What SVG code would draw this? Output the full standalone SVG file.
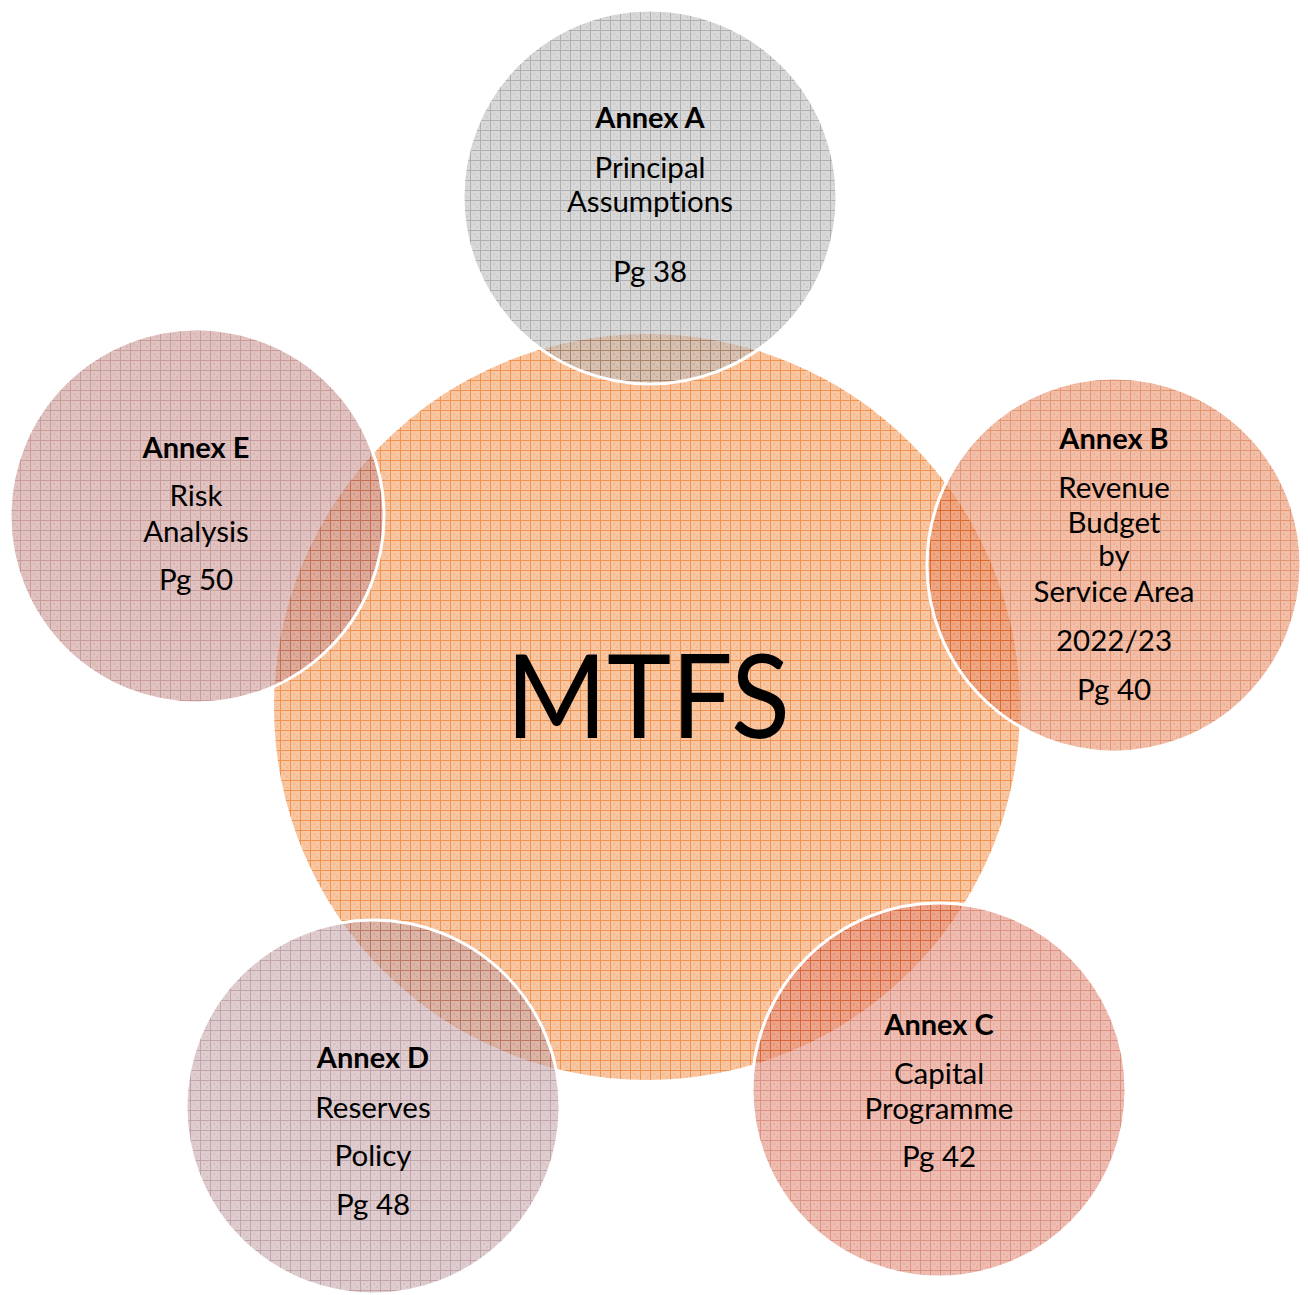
<svg xmlns="http://www.w3.org/2000/svg" width="1308" height="1295" viewBox="0 0 1308 1295">
  <defs>
    <!-- graph-paper fills: base tone, fine checker, 1px grid every 10px -->
    <pattern id="gridOrange" width="10" height="10" patternUnits="userSpaceOnUse">
      <rect width="10" height="10" fill="#f9c6a2"/>
      <rect x="3" y="3" width="2" height="2" fill="#f6b88e"/>
      <rect x="6" y="6" width="2" height="2" fill="#f6b88e"/>
      <path d="M0 0.5H10M0.5 0V10" stroke="#f1924e" stroke-width="1"/>
    </pattern>
    <!-- satellite fills are deeper tones, laid down at reduced opacity -->
    <pattern id="gridGray" width="10" height="10" patternUnits="userSpaceOnUse">
      <rect width="10" height="10" fill="rgb(190,190,190)"/>
      <rect x="3" y="3" width="2" height="2" fill="rgb(170,170,170)"/>
      <rect x="6" y="6" width="2" height="2" fill="rgb(170,170,170)"/>
      <path d="M0 0.5H10M0.5 0V10" stroke="rgb(122,122,122)" stroke-width="1"/>
    </pattern>
    <pattern id="gridSalmon" width="10" height="10" patternUnits="userSpaceOnUse">
      <rect width="10" height="10" fill="rgb(233,147,110)"/>
      <rect x="3" y="3" width="2" height="2" fill="rgb(223,123,80)"/>
      <rect x="6" y="6" width="2" height="2" fill="rgb(223,123,80)"/>
      <path d="M0 0.5H10M0.5 0V10" stroke="rgb(207,80,23)" stroke-width="1"/>
    </pattern>
    <pattern id="gridRose" width="10" height="10" patternUnits="userSpaceOnUse">
      <rect width="10" height="10" fill="rgb(227,143,123)"/>
      <rect x="3" y="3" width="2" height="2" fill="rgb(217,120,100)"/>
      <rect x="6" y="6" width="2" height="2" fill="rgb(217,120,100)"/>
      <path d="M0 0.5H10M0.5 0V10" stroke="rgb(197,73,47)" stroke-width="1"/>
    </pattern>
    <pattern id="gridMauve" width="10" height="10" patternUnits="userSpaceOnUse">
      <rect width="10" height="10" fill="rgb(200,170,173)"/>
      <rect x="3" y="3" width="2" height="2" fill="rgb(187,153,157)"/>
      <rect x="6" y="6" width="2" height="2" fill="rgb(187,153,157)"/>
      <path d="M0 0.5H10M0.5 0V10" stroke="rgb(150,103,113)" stroke-width="1"/>
    </pattern>
    <pattern id="gridDusty" width="10" height="10" patternUnits="userSpaceOnUse">
      <rect width="10" height="10" fill="rgb(203,153,150)"/>
      <rect x="3" y="3" width="2" height="2" fill="rgb(190,130,127)"/>
      <rect x="6" y="6" width="2" height="2" fill="rgb(190,130,127)"/>
      <path d="M0 0.5H10M0.5 0V10" stroke="rgb(163,90,87)" stroke-width="1"/>
    </pattern>
  </defs>
  <style>
    .sat { fill-opacity: 0.6; stroke: #ffffff; stroke-width: 3; }
    text { font-family: Lato, "Open Sans", "Liberation Sans", sans-serif; fill: #000000; text-anchor: middle; font-variant-ligatures: none; }
    .t { font-size: 29.5px; }
    .h { font-size: 29px; font-weight: bold; }
    .big { font-size: 116px; }
  </style>

  <rect width="1308" height="1295" fill="#ffffff"/>

  <!-- central circle -->
  <g id="mtfs">
    <circle cx="647" cy="707" r="373" fill="url(#gridOrange)"/>
    <text class="big" x="648" y="738" textLength="284" lengthAdjust="spacingAndGlyphs">MTFS</text>
  </g>

  <!-- satellites -->
  <g id="annex-a">
    <circle class="sat" cx="650" cy="197" r="187" fill="url(#gridGray)"/>
    <text class="h" x="650" y="128">Annex A</text>
    <text class="t" x="650" y="178">Principal</text>
    <text class="t" x="650" y="212">Assumptions</text>
    <text class="t" x="650" y="282">Pg 38</text>
  </g>

  <g id="annex-b">
    <circle class="sat" cx="1114" cy="565" r="187" fill="url(#gridSalmon)"/>
    <text class="h" x="1114" y="449">Annex B</text>
    <text class="t" x="1114" y="498">Revenue</text>
    <text class="t" x="1114" y="533">Budget</text>
    <text class="t" x="1114" y="566">by</text>
    <text class="t" x="1114" y="602">Service Area</text>
    <text class="t" x="1114" y="651">2022/23</text>
    <text class="t" x="1114" y="700">Pg 40</text>
  </g>

  <g id="annex-c">
    <circle class="sat" cx="939" cy="1090" r="187" fill="url(#gridRose)"/>
    <text class="h" x="939" y="1035">Annex C</text>
    <text class="t" x="939" y="1084">Capital</text>
    <text class="t" x="939" y="1119">Programme</text>
    <text class="t" x="939" y="1167">Pg 42</text>
  </g>

  <g id="annex-d">
    <circle class="sat" cx="373" cy="1107" r="187" fill="url(#gridMauve)"/>
    <text class="h" x="373" y="1068">Annex D</text>
    <text class="t" x="373" y="1118">Reserves</text>
    <text class="t" x="373" y="1166">Policy</text>
    <text class="t" x="373" y="1215">Pg 48</text>
  </g>

  <g id="annex-e">
    <circle class="sat" cx="197" cy="516" r="187" fill="url(#gridDusty)"/>
    <text class="h" x="196" y="458">Annex E</text>
    <text class="t" x="196" y="506">Risk</text>
    <text class="t" x="196" y="542">Analysis</text>
    <text class="t" x="196" y="590">Pg 50</text>
  </g>
</svg>
